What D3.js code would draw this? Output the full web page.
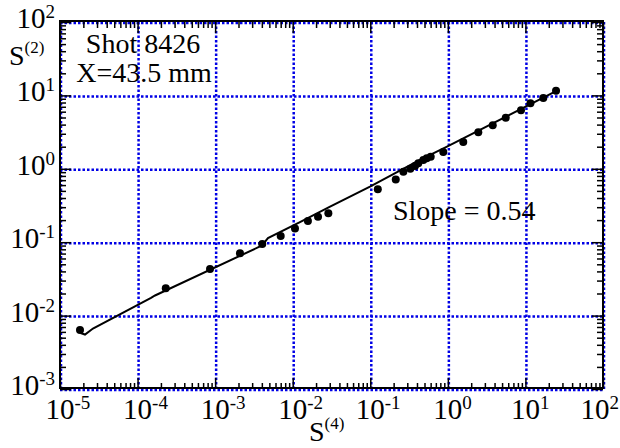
<!DOCTYPE html>
<html>
<head>
<meta charset="utf-8">
<script src="https://cdn.jsdelivr.net/npm/d3@7"></script>
<style>
  body { margin: 0; background: #fff; }
</style>
</head>
<body>
<svg id="chart" width="620" height="448"></svg>
<script>
// measured points, shot 8426, X = 43.5 mm
const s4 = [1.81e-5, 2.31e-4, 8.59e-4, 2.09e-3, 4.05e-3, 7.0e-3, 0.0107, 0.0157, 0.0212, 0.0288,
            0.125, 0.213, 0.267, 0.328, 0.377, 0.416, 0.483, 0.534, 0.601, 0.873,
            1.58, 2.47, 3.79, 5.58, 8.77, 11.6, 17.0, 24.8];
const s2 = [6.37e-3, 0.0235, 0.0431, 0.0706, 0.0944, 0.121, 0.154, 0.194, 0.222, 0.248,
            0.526, 0.714, 0.913, 1.0, 1.09, 1.19, 1.32, 1.39, 1.46, 1.69,
            2.32, 3.14, 3.93, 4.97, 6.27, 7.80, 9.23, 11.6];

// fitted curve
const fitS4 = [1.84e-5, 2.10e-5, 2.66e-5, 1.49e-4, 1.68e-4, 4.02e-3, 4.80e-3, 0.0124, 0.0303, 0.0991, 0.437, 0.975, 24.8];
const fitS2 = [5.79e-3, 5.52e-3, 6.67e-3, 0.0174, 0.0188, 0.0902, 0.114, 0.188, 0.306, 0.570, 1.32, 2.01, 11.4];

const xDecades = [-5, -4, -3, -2, -1, 0, 1, 2];
const yDecades = [-3, -2, -1, 0, 1, 2];

const svg = d3.select("#chart");
const m = {left: 60, right: 603, top: 22, bottom: 389};
const serif = '"Liberation Serif"';

const x = d3.scaleLog().domain([1e-5, 1e2]).range([m.left, m.right]);
const y = d3.scaleLog().domain([1e-3, 1e2]).range([m.bottom, m.top]);

function minors(decs) {
    let out = [];
    for (let i = 0; i < decs.length - 1; i++)
        for (let k = 2; k <= 9; k++) out.push(k * Math.pow(10, decs[i]));
    return out;
}
const xMajor = xDecades.map(d => Math.pow(10, d));
const yMajor = yDecades.map(d => Math.pow(10, d));

// grid
const grid = svg.append("g")
    .attr("stroke", "#0000e6")
    .attr("stroke-width", 2.5)
    .attr("stroke-dasharray", "2.5,2");
grid.selectAll(".gx").data(xMajor).enter().append("line")
    .attr("x1", d => x(d) + 1).attr("x2", d => x(d) + 1)
    .attr("y1", m.top).attr("y2", m.bottom + 2);
grid.selectAll(".gy").data(yMajor).enter().append("line")
    .attr("y1", d => y(d) + 1).attr("y2", d => y(d) + 1)
    .attr("x1", m.left).attr("x2", m.right + 1);

// frame ticks, all inward
function addAxis(axis, tf) {
    const g = svg.append("g").attr("transform", tf).call(axis);
    g.select(".domain").remove();
    g.selectAll("line").attr("stroke", "#000").attr("stroke-width", 1.5);
    g.selectAll("text").remove();
}
const fmt = () => "";
addAxis(d3.axisBottom(x).tickValues(xMajor).tickSize(-11).tickFormat(fmt), `translate(0,${m.bottom})`);
addAxis(d3.axisBottom(x).tickValues(minors(xDecades)).tickSize(-6).tickFormat(fmt), `translate(0,${m.bottom})`);
addAxis(d3.axisTop(x).tickValues(xMajor).tickSize(-11).tickFormat(fmt), `translate(0,${m.top})`);
addAxis(d3.axisTop(x).tickValues(minors(xDecades)).tickSize(-6).tickFormat(fmt), `translate(0,${m.top})`);
addAxis(d3.axisLeft(y).tickValues(yMajor).tickSize(-11).tickFormat(fmt), `translate(${m.left},0)`);
addAxis(d3.axisLeft(y).tickValues(minors(yDecades)).tickSize(-6).tickFormat(fmt), `translate(${m.left},0)`);
addAxis(d3.axisRight(y).tickValues(yMajor).tickSize(-11).tickFormat(fmt), `translate(${m.right},0)`);
addAxis(d3.axisRight(y).tickValues(minors(yDecades)).tickSize(-6).tickFormat(fmt), `translate(${m.right},0)`);

svg.append("rect")
    .attr("x", m.left).attr("y", m.top - 1)
    .attr("width", m.right - m.left).attr("height", m.bottom - m.top)
    .attr("fill", "none").attr("stroke", "#000").attr("stroke-width", 2);

function serifText(g) {
    return g.append("text").style("font-family", serif).attr("fill", "#000");
}

// tick labels 10^n
function power(e, anchor) {
    const t = serifText(svg).style("font-size", "29px").attr("text-anchor", anchor);
    t.append("tspan").text("10");
    t.append("tspan").style("font-size", "19px").attr("dy", -10).text(e);
    return t;
}
xDecades.forEach(e => {
    const t = power(e, "start").attr("y", 419);
    const w10 = t.select("tspan").node().getComputedTextLength();
    const wAll = t.node().getComputedTextLength();
    let x0 = x(Math.pow(10, e)) - w10 / 2;
    x0 = Math.min(x0, 619 - wAll);
    t.attr("x", x0);
});
yDecades.forEach(e => {
    power(e, "end").attr("x", 55).attr("y", y(Math.pow(10, e)) + 6);
});

// axis titles
const xt = serifText(svg).attr("x", 309).attr("y", 441).style("font-size", "28px");
xt.append("tspan").text("S");
xt.append("tspan").style("font-size", "17px").attr("dy", -12).text("(4)");
const yt = serifText(svg).attr("x", 9).attr("y", 65).style("font-size", "28px");
yt.append("tspan").text("S");
yt.append("tspan").style("font-size", "17px").attr("dy", -12).text("(2)");

// fit curve
const line = d3.line().x(d => x(d[0])).y(d => y(d[1]));
svg.append("path")
    .datum(d3.zip(fitS4, fitS2))
    .attr("d", line)
    .attr("fill", "none").attr("stroke", "#000").attr("stroke-width", 2);

// points
svg.selectAll(".pt").data(d3.zip(s4, s2)).enter().append("circle")
    .attr("cx", d => x(d[0])).attr("cy", d => y(d[1]))
    .attr("r", 4).attr("fill", "#000");

// annotations
serifText(svg).attr("x", 143).attr("y", 53).attr("text-anchor", "middle")
    .style("font-size", "28px").text("Shot 8426");
serifText(svg).attr("x", 144).attr("y", 82).attr("text-anchor", "middle")
    .style("font-size", "28px").text("X=43.5 mm");
serifText(svg).attr("x", 393).attr("y", 220)
    .style("font-size", "28px").text("Slope = 0.54");
</script>
</body>
</html>
